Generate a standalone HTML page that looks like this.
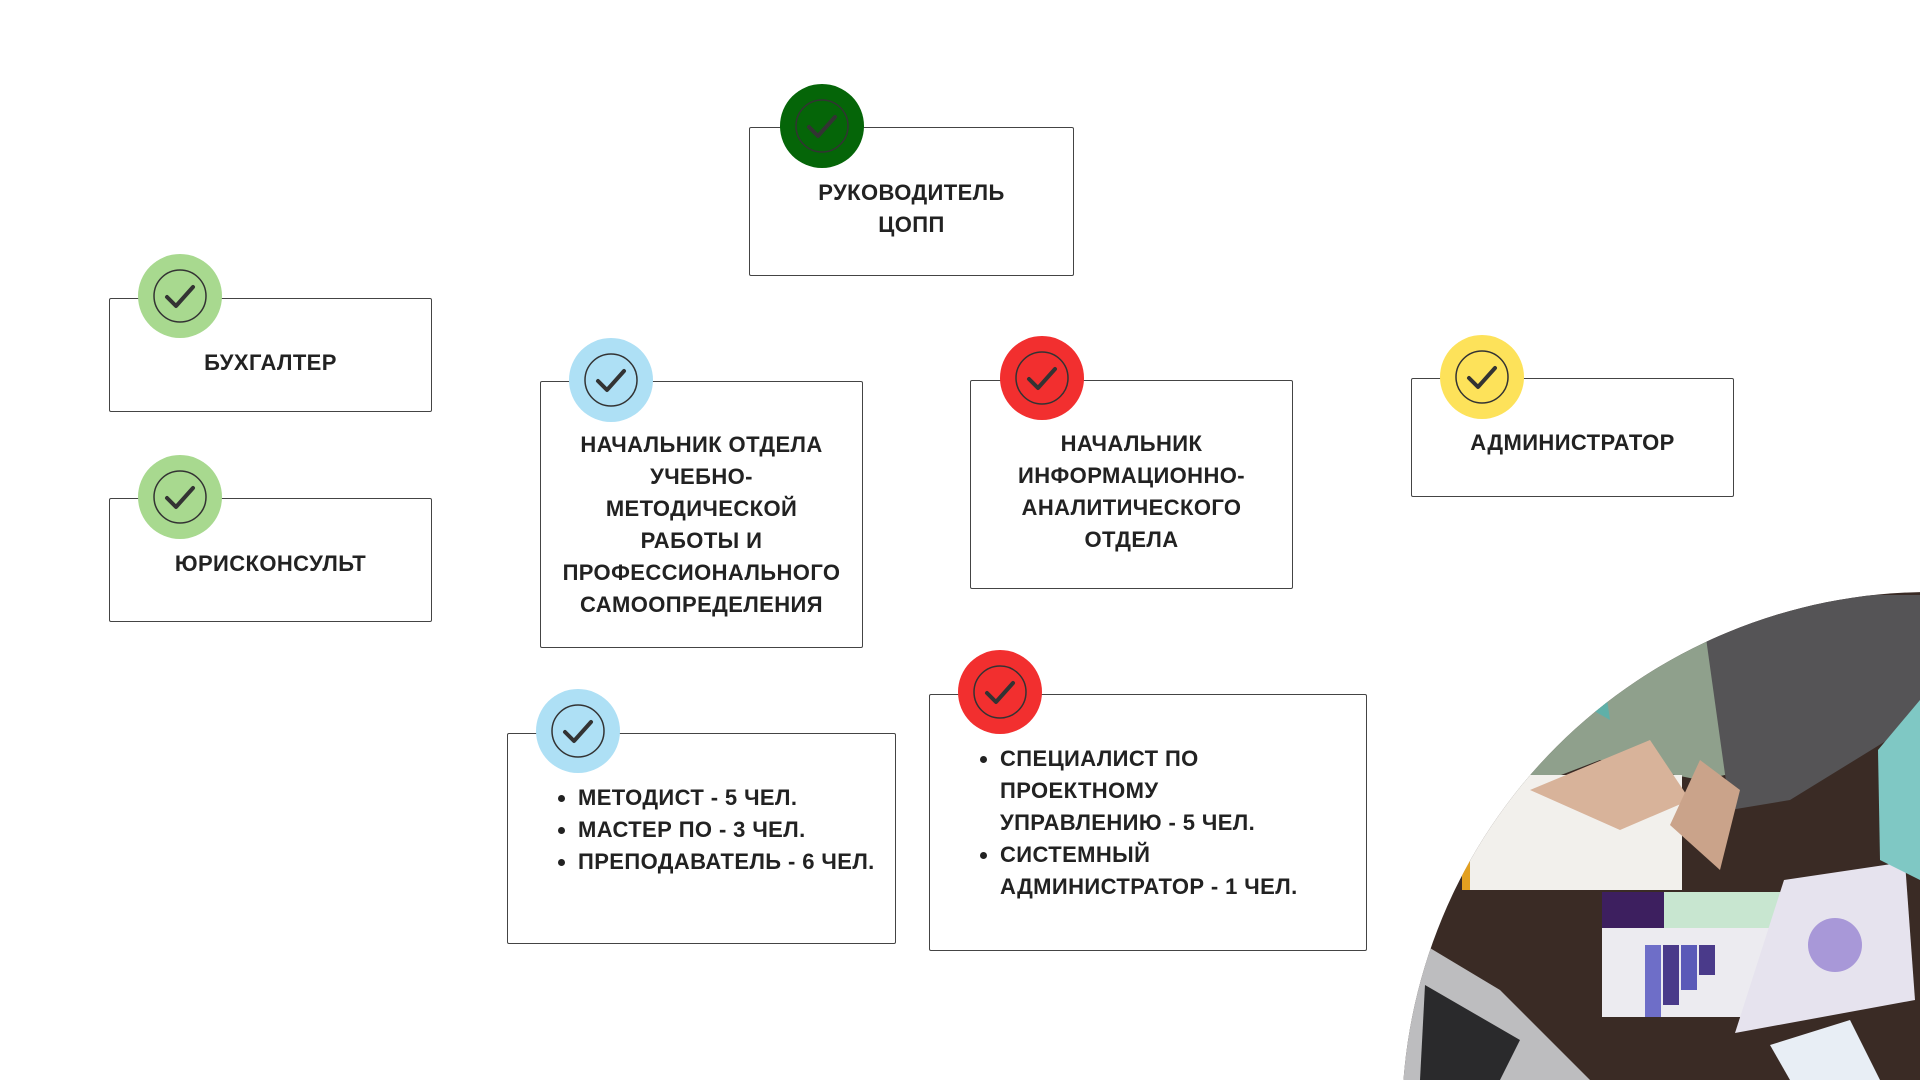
<!DOCTYPE html>
<html><head><meta charset="utf-8"><style>
body{margin:0;width:1920px;height:1080px;background:#fff;position:relative;overflow:hidden;font-family:"Liberation Sans",sans-serif;}
.b{position:absolute;border:1.5px solid #444;border-radius:2px;box-sizing:border-box;background:#fff}
.c{position:absolute;width:84px;height:84px;border-radius:50%;}
.c svg{position:absolute;left:0;top:0}
.t{position:absolute;text-align:center;font-weight:bold;font-size:22px;line-height:32px;color:#222;letter-spacing:0.4px}
ul{position:absolute;margin:0;padding:0 0 0 22px;font-weight:bold;font-size:22px;line-height:32px;color:#222;letter-spacing:0.4px}
</style></head><body>
<div class="b" style="left:749px;top:127px;width:325px;height:149px"></div>
<div class="b" style="left:109px;top:298px;width:323px;height:114px"></div>
<div class="b" style="left:109px;top:498px;width:323px;height:124px"></div>
<div class="b" style="left:540px;top:381px;width:323px;height:267px"></div>
<div class="b" style="left:970px;top:380px;width:323px;height:209px"></div>
<div class="b" style="left:1411px;top:378px;width:323px;height:119px"></div>
<div class="b" style="left:507px;top:733px;width:389px;height:211px"></div>
<div class="b" style="left:929px;top:694px;width:438px;height:257px"></div>

<div class="t" style="left:749px;width:325px;top:177px">РУКОВОДИТЕЛЬ<br>ЦОПП</div>
<div class="t" style="left:109px;width:323px;top:347px">БУХГАЛТЕР</div>
<div class="t" style="left:109px;width:323px;top:548px">ЮРИСКОНСУЛЬТ</div>
<div class="t" style="left:530px;width:343px;top:429px">НАЧАЛЬНИК ОТДЕЛА<br>УЧЕБНО-<br>МЕТОДИЧЕСКОЙ<br>РАБОТЫ И<br>ПРОФЕССИОНАЛЬНОГО<br>САМООПРЕДЕЛЕНИЯ</div>
<div class="t" style="left:970px;width:323px;top:428px">НАЧАЛЬНИК<br>ИНФОРМАЦИОННО-<br>АНАЛИТИЧЕСКОГО<br>ОТДЕЛА</div>
<div class="t" style="left:1411px;width:323px;top:427px">АДМИНИСТРАТОР</div>
<ul style="left:556px;top:782px"><li>МЕТОДИСТ - 5 ЧЕЛ.</li><li>МАСТЕР ПО - 3 ЧЕЛ.</li><li>ПРЕПОДАВАТЕЛЬ - 6 ЧЕЛ.</li></ul>
<ul style="left:978px;top:743px;width:380px"><li>СПЕЦИАЛИСТ ПО<br>ПРОЕКТНОМУ<br>УПРАВЛЕНИЮ - 5 ЧЕЛ.</li><li>СИСТЕМНЫЙ<br>АДМИНИСТРАТОР - 1 ЧЕЛ.</li></ul>

<svg width="0" height="0" style="position:absolute"><defs><g id="ck"><circle cx="42" cy="42" r="26" fill="none" stroke="#333" stroke-width="1.5"/><path d="M29 43 L38 52 L55 33" fill="none" stroke="#333" stroke-width="4" stroke-linecap="round" stroke-linejoin="round"/></g></defs></svg>
<div class="c" style="left:780px;top:84px;background:#056508"><svg width="84" height="84"><use href="#ck"/></svg></div>
<div class="c" style="left:138px;top:254px;background:#a8d98f"><svg width="84" height="84"><use href="#ck"/></svg></div>
<div class="c" style="left:138px;top:455px;background:#a8d98f"><svg width="84" height="84"><use href="#ck"/></svg></div>
<div class="c" style="left:569px;top:338px;background:#aee0f5"><svg width="84" height="84"><use href="#ck"/></svg></div>
<div class="c" style="left:1000px;top:336px;background:#f22f2f"><svg width="84" height="84"><use href="#ck"/></svg></div>
<div class="c" style="left:1440px;top:335px;background:#fde25a"><svg width="84" height="84"><use href="#ck"/></svg></div>
<div class="c" style="left:536px;top:689px;background:#aee0f5"><svg width="84" height="84"><use href="#ck"/></svg></div>
<div class="c" style="left:958px;top:650px;background:#f22f2f"><svg width="84" height="84"><use href="#ck"/></svg></div>

<svg style="position:absolute;left:0;top:0" width="1920" height="1080">
<defs><clipPath id="cp"><circle cx="1930" cy="1120" r="528"/></clipPath></defs>
<g clip-path="url(#cp)">
<rect x="1390" y="580" width="530" height="500" fill="#3a2b25"/>
<path d="M1440 740 L1560 600 L1700 600 L1750 770 L1700 780 L1600 760 L1470 810 Z" fill="#8fa08c"/>
<path d="M1700 595 L1920 595 L1920 720 L1790 800 L1730 810 Z" fill="#555456"/>
<path d="M1540 680 L1600 650 L1610 720 Z" fill="#5fb0a8"/>
<rect x="1462" y="775" width="220" height="115" fill="#f2f0ec"/>
<rect x="1462" y="775" width="8" height="115" fill="#e2a020"/>
<path d="M1530 790 L1650 740 L1690 800 L1620 830 Z" fill="#d8b39a"/>
<path d="M1670 825 L1700 760 L1740 790 L1720 870 Z" fill="#caa38a"/>
<rect x="1602" y="892" width="182" height="125" fill="#ecebf0"/>
<rect x="1602" y="892" width="62" height="36" fill="#3d1f5f"/>
<rect x="1664" y="892" width="120" height="36" fill="#c8e6d0"/>
<rect x="1645" y="945" width="16" height="72" fill="#6e6ec8"/>
<rect x="1663" y="945" width="16" height="60" fill="#4a3a8a"/>
<rect x="1681" y="945" width="16" height="45" fill="#5a5ab8"/>
<rect x="1699" y="945" width="16" height="30" fill="#4a3a8a"/>
<path d="M1784 880 L1905 862 L1915 1000 L1735 1033 Z" fill="#e6e3ee"/>
<circle cx="1835" cy="945" r="27" fill="#a898d8"/>
<path d="M1400 930 L1500 990 L1590 1080 L1400 1080 Z" fill="#bdbdbf"/>
<path d="M1425 985 L1520 1040 L1500 1080 L1420 1080 Z" fill="#2a2a2c"/>
<path d="M1770 1045 L1850 1020 L1880 1080 L1790 1080 Z" fill="#e8eef5"/>
<path d="M1878 750 L1920 700 L1920 880 L1880 860 Z" fill="#7fc8c4"/>
</g></svg>
</body></html>
